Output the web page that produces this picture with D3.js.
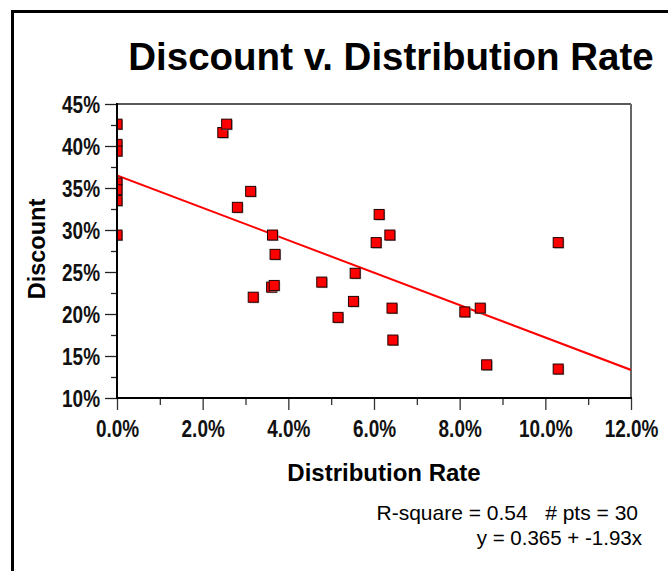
<!DOCTYPE html>
<html>
<head>
<meta charset="utf-8">
<script src="https://cdn.jsdelivr.net/npm/d3@7"></script>
<style>
  body { margin: 0; background: #fff; }
  svg { display: block; }
  .tick text { font-family: 'Liberation Sans', Arial, sans-serif; font-weight: bold; font-size: 24px; fill: #111; }
</style>
</head>
<body>
<div id="chart"></div>
<script>
// x = distribution rate, y = discount
const distRate = [0, 0, 0, 0, 0, 0, 0,
  0.0247, 0.0256, 0.0281, 0.0312, 0.0318, 0.0361, 0.0363, 0.0367, 0.0369,
  0.0478, 0.0516, 0.0552, 0.0556, 0.0605, 0.0612, 0.0637, 0.0642, 0.0644,
  0.0812, 0.0848, 0.0863, 0.1030, 0.1030];
const discount = [0.426, 0.402, 0.394, 0.356, 0.348, 0.335, 0.294,
  0.416, 0.426, 0.327, 0.346, 0.220, 0.232, 0.294, 0.234, 0.271,
  0.238, 0.196, 0.215, 0.2485, 0.285, 0.3185, 0.294, 0.207, 0.169,
  0.2025, 0.207, 0.1395, 0.285, 0.1345];

// fitted line as printed on the chart
const intercept = 0.365;
const slope = -1.93;

const xMajor = [0, 0.02, 0.04, 0.06, 0.08, 0.10, 0.12];
const xMinor = [0.01, 0.03, 0.05, 0.07, 0.09, 0.11];
const yMajor = [0.10, 0.15, 0.20, 0.25, 0.30, 0.35, 0.40, 0.45];
const yMinor = [0.125, 0.175, 0.225, 0.275, 0.325, 0.375, 0.425];

const width = 668, height = 571;
const margin = { left: 117, right: 631, top: 104, bottom: 398 };
const narrow = 0.79; // squeeze for the condensed tick font

const svg = d3.select('#chart').append('svg')
  .attr('width', width)
  .attr('height', height);

// outer frame (runs off the right and bottom of the picture)
svg.append('rect')
  .attr('x', 12.5).attr('y', 11.5)
  .attr('width', 800).attr('height', 800)
  .attr('fill', 'none')
  .attr('stroke', '#000')
  .attr('stroke-width', 3);

svg.append('text')
  .attr('x', 391).attr('y', 70)
  .attr('text-anchor', 'middle')
  .style('font-family', 'Liberation Sans, Arial, sans-serif')
  .style('font-weight', 'bold')
  .style('font-size', '38.5px')
  .text('Discount v. Distribution Rate');

var x = d3.scaleLinear().domain([0, 0.12]).range([margin.left, margin.right]);
var y = d3.scaleLinear().domain([0.10, 0.45]).range([margin.bottom, margin.top]);

// axes: majors with labels, minors without
var gx = svg.append('g').attr('transform', 'translate(0,' + margin.bottom + ')');
gx.append('g').call(d3.axisBottom(x).tickValues(xMinor).tickSize(7).tickFormat(''));
gx.append('g').call(d3.axisBottom(x).tickValues(xMajor).tickSize(12).tickFormat(d3.format('.1%')));
gx.selectAll('.domain').remove();
gx.selectAll('.tick line').attr('stroke', '#333').attr('stroke-width', 1.3);
gx.selectAll('.tick text')
  .attr('y', 39).attr('dy', 0)
  .attr('transform', 'scale(' + narrow + ',1)');

var gy = svg.append('g').attr('transform', 'translate(' + margin.left + ',0)');
gy.append('g').call(d3.axisLeft(y).tickValues(yMinor).tickSize(6).tickFormat(''));
gy.append('g').call(d3.axisLeft(y).tickValues(yMajor).tickSize(12).tickFormat(d3.format('.0%')));
gy.selectAll('.domain').remove();
gy.selectAll('.tick line').attr('stroke', '#222').attr('stroke-width', 1.3);
gy.selectAll('.tick text')
  .attr('x', -17 / narrow).attr('dy', '0.36em')
  .attr('transform', 'scale(' + narrow + ',1)');

// plot frame
svg.append('line').attr('x1', margin.left).attr('x2', margin.right)
  .attr('y1', margin.top).attr('y2', margin.top)
  .attr('stroke', '#222').attr('stroke-width', 1.5);
svg.append('line').attr('x1', margin.right).attr('x2', margin.right)
  .attr('y1', margin.top).attr('y2', margin.bottom)
  .attr('stroke', '#666').attr('stroke-width', 2);

svg.append('clipPath').attr('id', 'plot')
  .append('rect')
  .attr('x', margin.left).attr('y', margin.top)
  .attr('width', margin.right - margin.left)
  .attr('height', margin.bottom - margin.top);

var plot = svg.append('g').attr('clip-path', 'url(#plot)');

// trend line
var line = d3.line()
  .x(function(d) { return x(d); })
  .y(function(d) { return y(intercept + slope * d); });
plot.append('path')
  .attr('d', line([0, 0.12]))
  .attr('fill', 'none')
  .attr('stroke', '#f00')
  .attr('stroke-width', 2);

var pts = plot.selectAll('g.pt')
  .data(distRate.map(function(d, i) { return { x: d, y: discount[i] }; }))
  .enter().append('g')
  .attr('class', 'pt')
  .attr('transform', function(d) { return 'translate(' + x(d.x) + ',' + y(d.y) + ')'; });

pts.append('rect')
  .attr('x', -4).attr('y', -4)
  .attr('width', 10).attr('height', 10)
  .attr('fill', '#999');
pts.append('rect')
  .attr('x', -5).attr('y', -5)
  .attr('width', 10).attr('height', 10)
  .attr('fill', '#f00')
  .attr('stroke', '#200')
  .attr('stroke-width', 1);

// left and bottom axis lines on top
svg.append('line').attr('x1', margin.left).attr('x2', margin.left)
  .attr('y1', margin.top - 1).attr('y2', margin.bottom + 1)
  .attr('stroke', '#000').attr('stroke-width', 2);
svg.append('line').attr('x1', margin.left - 1).attr('x2', margin.right + 1)
  .attr('y1', margin.bottom).attr('y2', margin.bottom)
  .attr('stroke', '#000').attr('stroke-width', 2);

svg.append('text')
  .attr('x', 384).attr('y', 481)
  .attr('text-anchor', 'middle')
  .style('font-family', 'Liberation Sans, Arial, sans-serif')
  .style('font-weight', 'bold')
  .style('font-size', '24px')
  .text('Distribution Rate');

svg.append('text')
  .attr('transform', 'translate(45,249) rotate(-90)')
  .attr('text-anchor', 'middle')
  .style('font-family', 'Liberation Sans, Arial, sans-serif')
  .style('font-weight', 'bold')
  .style('font-size', '23.5px')
  .text('Discount');

var note = svg.append('g')
  .style('font-family', 'Liberation Sans, Arial, sans-serif')
  .attr('text-anchor', 'end');
note.append('text').attr('x', 638).attr('y', 520)
  .style('font-size', '21px')
  .style('white-space', 'pre')
  .text('R-square = 0.54   # pts = 30');
note.append('text').attr('x', 642).attr('y', 545)
  .style('font-size', '20.5px')
  .text('y = 0.365 + -1.93x');
</script>
</body>
</html>
